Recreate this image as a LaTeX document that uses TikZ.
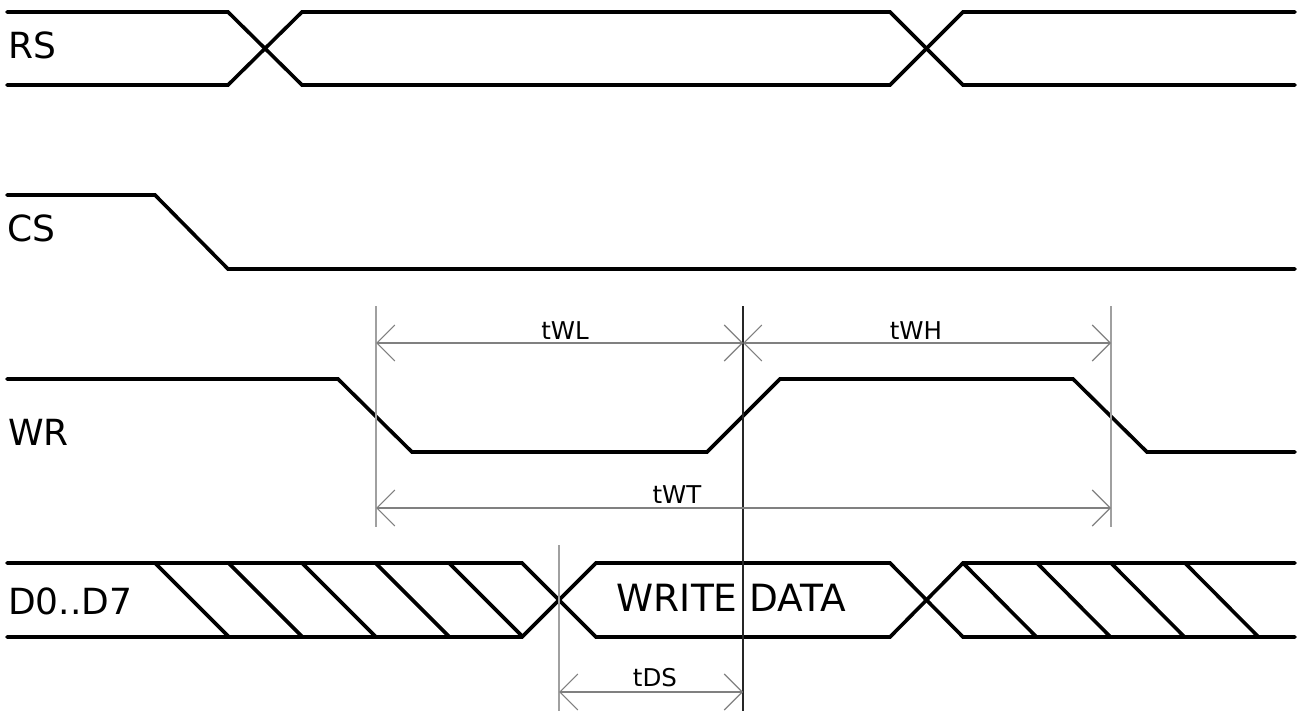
\documentclass[tikz,border=0pt]{standalone}
\usepackage{fontspec}
\setmainfont{DejaVu Sans}
\usetikzlibrary{arrows.meta}
\definecolor{dimgray}{RGB}{128,128,128}
\definecolor{guidegray}{RGB}{160,160,160}
\tikzset{
  sig/.style={line width=3.6pt, black, line cap=round},
  hatch/.style={line width=3.6pt, black},
  guide/.style={line width=1.2pt, guidegray},
  guidedark/.style={line width=1.2pt, black!85},
  dim/.style={line width=1.1pt, dimgray, {Straight Barb[length=18pt,width=36pt,line width=1.1pt]}-{Straight Barb[length=18pt,width=36pt,line width=1.1pt]}},
  siglabel/.style={anchor=base west, inner sep=0pt, font=\fontsize{36}{40}\selectfont},
  dimlabel/.style={anchor=base, inner sep=0pt, font=\fontsize{24.5}{28}\selectfont},
  datalabel/.style={anchor=base, inner sep=0pt, font=\fontsize{37.5}{42}\selectfont}
}
\begin{document}
\begin{tikzpicture}[x=1pt,y=-1pt]
\useasboundingbox (0,0) rectangle (1297,711);

% signal labels
\node[siglabel] (lRS) at (8,59) {RS};
\node[siglabel] (lCS) at (7,242) {CS};
\node[siglabel] (lWR) at (8,445) {WR};
\node[siglabel] (lD) at (8,614) {D0..D7};

% RS
\draw[sig] (7,12) -- (228,12) -- (302,85) -- (890,85) -- (963,12) -- (1295,12);
\draw[sig] (7,85) -- (228,85) -- (302,12) -- (890,12) -- (963,85) -- (1295,85);

% CS
\draw[sig] (7,195) -- (155,195) -- (228,269) -- (1295,269);

% WR
\draw[sig] (7,379) -- (338,379) -- (412,452) -- (707,452) -- (780,379) -- (1073,379) -- (1147,452) -- (1295,452);

% D0..D7
\draw[sig] (7,563) -- (522,563) -- (596,637) -- (890,637) -- (963,563) -- (1295,563);
\draw[sig] (7,637) -- (522,637) -- (596,563) -- (890,563) -- (963,637) -- (1295,637);
\foreach \x in {155,228.5,302,375.5,449} {
  \draw[hatch] (\x,563) -- ({\x+74},637);
}
\foreach \x in {963,1037,1111,1185} {
  \draw[hatch] (\x,563) -- ({\x+73.5},637);
}
\node[datalabel] (wd) at (731.5,611) {WRITE DATA};

% guide lines
\coordinate (gA1) at (376,306);  \coordinate (gA2) at (376,527);
\coordinate (gB1) at (743,306);  \coordinate (gB2) at (743,711);
\coordinate (gC1) at (1111,306); \coordinate (gC2) at (1111,527);
\coordinate (gD1) at (559,545);  \coordinate (gD2) at (559,711);
\draw[guide] (gA1) -- (gA2);
\draw[guide] (gC1) -- (gC2);
\draw[guide] (gD1) -- (gD2);
\draw[guidedark] (gB1) -- (gB2);

% dimension arrows
\coordinate (wlL) at (376,343); \coordinate (wlR) at (743,343);
\coordinate (whR) at (1111,343);
\coordinate (wtL) at (376,508); \coordinate (wtR) at (1111,508);
\coordinate (dsL) at (559,692); \coordinate (dsR) at (743,692);
\draw[dim] (wlL) -- (wlR);
\draw[dim] (wlR) -- (whR);
\draw[dim] (wtL) -- (wtR);
\draw[dim] (dsL) -- (dsR);

\node[dimlabel] (tWL) at (565,339) {tWL};
\node[dimlabel] (tWH) at (916,339) {tWH};
\node[dimlabel] (tWT) at (677,503) {tWT};
\node[dimlabel] (tDS) at (655,686) {tDS};
\end{tikzpicture}
\end{document}
